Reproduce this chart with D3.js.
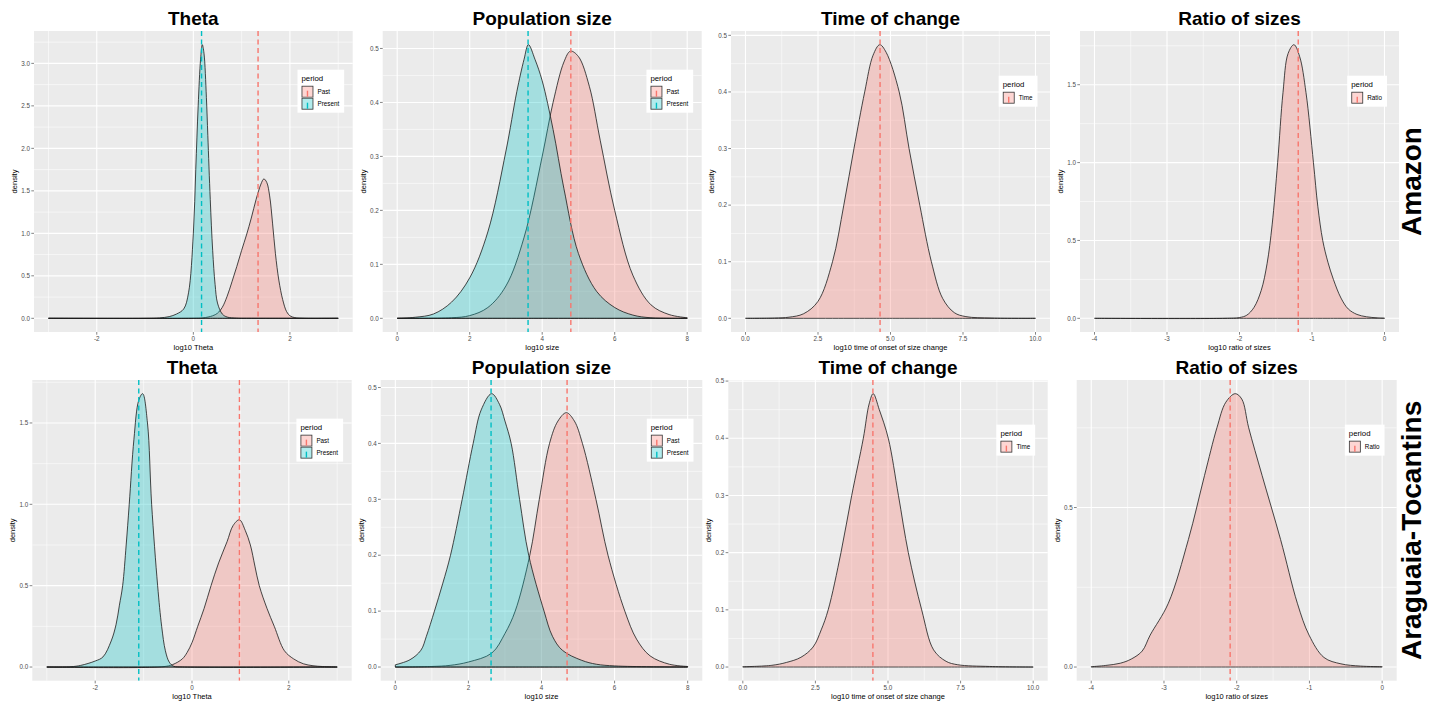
<!DOCTYPE html>
<meta charset="utf-8">
<style>
body { margin: 0; background: #fff; }
svg { display: block; font-family: "Liberation Sans", Arial, sans-serif; }
.tick-lab { font-size: 6.3px; fill: #4d4d4d; }
.ax-title { font-size: 7.5px; fill: #000; }
.panel-title { font-size: 19px; font-weight: bold; fill: #000; }
.row-label { font-size: 28px; font-weight: bold; fill: #000; }
</style>
<body>
<svg width="1435" height="702"></svg>
<script src="https://d3js.org/d3.v7.min.js"></script>
<script>

// ---- data: [log10 value, density] ----
var panelTitles = ["Theta", "Population size", "Time of change", "Ratio of sizes"];
var xLabels = ["log10 Theta", "log10 size", "log10 time of onset of size change", "log10 ratio of sizes"];
var rowLabels = ["Amazon", "Araguaia-Tocantins"];

var thetaTicks = [-2, 0, 2];
var sizeTicks = [0, 2, 4, 6, 8];
var timeTicks = [0, 2.5, 5, 7.5, 10];
var ratioTicks = [-4, -3, -2, -1, 0];

// Amazon
var amThetaPast = [[-3,0],[0,0],[0.2,0.005],[0.4,0.03],[0.5,0.06],[0.6,0.13],[0.7,0.26],[0.8,0.43],[0.9,0.61],[1.0,0.8],[1.1,0.98],[1.2,1.18],[1.3,1.4],[1.4,1.58],[1.46,1.64],[1.52,1.6],[1.58,1.44],[1.64,1.12],[1.7,0.76],[1.77,0.45],[1.85,0.22],[1.93,0.08],[2.0,0.03],[2.1,0.008],[2.3,0],[3,0]];
var amThetaPresent = [[-3,0],[-1,0],[-0.7,0.005],[-0.5,0.02],[-0.35,0.05],[-0.2,0.11],[-0.1,0.3],[0,1.0],[0.05,1.75],[0.1,2.5],[0.15,3.05],[0.185,3.22],[0.22,3.12],[0.27,2.6],[0.3,2.15],[0.35,1.4],[0.4,0.8],[0.45,0.4],[0.5,0.18],[0.6,0.05],[0.7,0.015],[0.9,0.002],[1.2,0],[3,0]];
var amThetaMeans = [1.34, 0.17];

var amSizePast = [[0,0],[1.5,0.001],[2.0,0.005],[2.5,0.02],[3.0,0.06],[3.5,0.15],[4.0,0.3],[4.3,0.4],[4.6,0.475],[4.78,0.495],[5.0,0.485],[5.3,0.43],[5.6,0.33],[6.0,0.2],[6.5,0.08],[7.0,0.025],[7.5,0.007],[8.0,0.001]];
var amSizePresent = [[0,0],[0.5,0.002],[1.0,0.008],[1.5,0.03],[2.0,0.075],[2.5,0.16],[3.0,0.31],[3.3,0.42],[3.5,0.48],[3.62,0.507],[3.8,0.48],[4.0,0.44],[4.3,0.35],[4.6,0.24],[5.0,0.12],[5.5,0.05],[6.0,0.02],[6.5,0.006],[7.0,0.001],[8,0]];
var amSizeMeans = [4.79, 3.61];

var amTime = [[0,0],[1.0,0.0005],[1.5,0.002],[2.0,0.008],[2.5,0.03],[3.0,0.1],[3.39,0.2],[3.74,0.3],[4.11,0.4],[4.4,0.465],[4.63,0.4835],[4.85,0.47],[5.3,0.4],[5.64,0.3],[6.01,0.2],[6.41,0.1],[6.8,0.035],[7.2,0.01],[7.6,0.003],[8.5,0.0005],[10,0]];
var amTimeMeans = [4.64];

var amRatio = [[-4,0],[-2.2,0],[-2.0,0.005],[-1.9,0.02],[-1.8,0.07],[-1.7,0.18],[-1.62,0.35],[-1.55,0.6],[-1.474,1.0],[-1.4,1.45],[-1.33,1.7],[-1.249,1.757],[-1.17,1.68],[-1.083,1.45],[-0.98,1.0],[-0.92,0.72],[-0.852,0.5],[-0.78,0.36],[-0.705,0.25],[-0.6,0.13],[-0.5,0.06],[-0.38,0.025],[-0.25,0.01],[-0.1,0.003],[0,0.001]];
var amRatioMeans = [-1.19];

// Araguaia-Tocantins
var atThetaPast = [[-3,0],[-0.6,0.002],[-0.4,0.015],[-0.2,0.05],[-0.1,0.09],[0,0.15],[0.118,0.25],[0.25,0.36],[0.393,0.5],[0.55,0.64],[0.724,0.77],[0.85,0.87],[0.98,0.905],[1.1,0.84],[1.206,0.75],[1.3,0.62],[1.39,0.5],[1.55,0.36],[1.7,0.25],[1.91,0.1],[2.1,0.05],[2.3,0.02],[2.5,0.008],[2.7,0.003],[3,0]];
var atThetaPresent = [[-3,0],[-2.5,0.002],[-2.3,0.01],[-2.0,0.037],[-1.84,0.062],[-1.67,0.16],[-1.57,0.26],[-1.5,0.38],[-1.433,0.5],[-1.36,0.75],[-1.297,1.0],[-1.2,1.4],[-1.1,1.64],[-1.02,1.68],[-0.92,1.5],[-0.834,1.0],[-0.71,0.5],[-0.627,0.25],[-0.55,0.1],[-0.47,0.03],[-0.38,0.005],[-0.2,0],[3,0]];
var atThetaMeans = [0.98, -1.10];

var atSizePast = [[0,0],[1.0,0.001],[1.5,0.003],[2.0,0.009],[2.64,0.025],[3.0,0.06],[3.28,0.1],[3.68,0.2],[3.94,0.3],[4.22,0.4],[4.45,0.44],[4.68,0.455],[4.9,0.44],[5.12,0.4],[5.49,0.3],[5.82,0.2],[6.28,0.1],[6.6,0.05],[6.97,0.02],[7.5,0.005],[8,0.001]];
var atSizePresent = [[0,0.004],[0.4,0.013],[0.7,0.03],[0.85,0.055],[1.07,0.1],[1.3,0.15],[1.51,0.2],[1.83,0.3],[2.13,0.4],[2.35,0.46],[2.635,0.489],[2.85,0.47],[3.0,0.44],[3.17,0.4],[3.4,0.3],[3.65,0.2],[4.07,0.1],[4.3,0.055],[4.57,0.03],[5.1,0.012],[5.5,0.005],[6,0.002],[7,0.0005],[8,0]];
var atSizeMeans = [4.70, 2.62];

var atTime = [[0,0.0005],[1.0,0.003],[1.5,0.008],[2.0,0.017],[2.42,0.035],[2.7,0.065],[2.94,0.1],[3.38,0.2],[3.75,0.3],[4.15,0.4],[4.35,0.46],[4.49,0.478],[4.7,0.45],[5.01,0.4],[5.36,0.3],[5.7,0.2],[6.16,0.1],[6.57,0.03],[7.0,0.01],[7.4,0.004],[8.5,0.001],[10,0]];
var atTimeMeans = [4.48];

var atRatio = [[-4,0.001],[-3.8,0.005],[-3.6,0.012],[-3.45,0.025],[-3.3,0.05],[-3.19,0.1],[-2.94,0.2],[-2.664,0.4],[-2.443,0.6],[-2.272,0.75],[-2.15,0.83],[-2.02,0.857],[-1.93,0.84],[-1.835,0.75],[-1.65,0.6],[-1.397,0.4],[-1.166,0.2],[-1.005,0.1],[-0.8,0.03],[-0.567,0.01],[-0.3,0.003],[0,0.001]];
var atRatioMeans = [-2.09];

var pink = "#F8766D", cyan = "#00BFC4";

// ---- layout ----
var svg = d3.select("svg");
var rowsY = [[31, 332], [380, 680.7]];
var colsX = [
  [[34, 352.7], [382.7, 701.7], [731, 1050], [1080, 1399]],
  [[32.3, 351.7], [380.7, 702.3], [728.3, 1047.7], [1076.7, 1396.7]]
];

var panels = [
  [
    {series: [["Past", pink, amThetaPast], ["Present", cyan, amThetaPresent]], means: amThetaMeans, ticks: thetaTicks, yTicks: [0,0.5,1,1.5,2,2.5,3], xf: d3.format("d")},
    {series: [["Past", pink, amSizePast], ["Present", cyan, amSizePresent]], means: amSizeMeans, ticks: sizeTicks, yTicks: [0,0.1,0.2,0.3,0.4,0.5], xf: d3.format("d")},
    {series: [["Time", pink, amTime]], means: amTimeMeans, ticks: timeTicks, yTicks: [0,0.1,0.2,0.3,0.4,0.5], xf: d3.format(".1f")},
    {series: [["Ratio", pink, amRatio]], means: amRatioMeans, ticks: ratioTicks, yTicks: [0,0.5,1,1.5], xf: d3.format("d")}
  ],
  [
    {series: [["Past", pink, atThetaPast], ["Present", cyan, atThetaPresent]], means: atThetaMeans, ticks: thetaTicks, yTicks: [0,0.5,1,1.5], xf: d3.format("d")},
    {series: [["Past", pink, atSizePast], ["Present", cyan, atSizePresent]], means: atSizeMeans, ticks: sizeTicks, yTicks: [0,0.1,0.2,0.3,0.4,0.5], xf: d3.format("d")},
    {series: [["Time", pink, atTime]], means: atTimeMeans, ticks: timeTicks, yTicks: [0,0.1,0.2,0.3,0.4,0.5], xf: d3.format(".1f")},
    {series: [["Ratio", pink, atRatio]], means: atRatioMeans, ticks: ratioTicks, yTicks: [0,0.5], xf: d3.format("d")}
  ]
];

function minors(ticks, dom) {
  var step = ticks[1] - ticks[0], out = [];
  for (var i = -1; i < ticks.length; i++) {
    var m = (i < 0 ? ticks[0] : ticks[i]) + (i < 0 ? -step / 2 : step / 2);
    if (m >= dom[0] && m <= dom[1]) out.push(m);
  }
  return out;
}
function lab(f, v) { return f(v).replace("\u2212", "-"); }

panels.forEach(function(row, r) {
  row.forEach(function(p, c) {
    var x0 = colsX[r][c][0], x1 = colsX[r][c][1], y0 = rowsY[r][0], y1 = rowsY[r][1];
    var allPts = [].concat.apply([], p.series.map(function(s) { return s[2]; }));
    var xe = d3.extent(allPts, function(d) { return d[0]; });
    var ymax = d3.max(allPts, function(d) { return d[1]; });
    var xr = xe[1] - xe[0];
    var x = d3.scaleLinear().domain([xe[0] - 0.05 * xr, xe[1] + 0.05 * xr]).range([x0, x1]);
    var y = d3.scaleLinear().domain([-0.05 * ymax, 1.05 * ymax]).range([y1, y0]);

    var g = svg.append("g");
    var clipId = "clip" + r + c;
    g.append("clipPath").attr("id", clipId).append("rect")
      .attr("x", x0).attr("y", y0).attr("width", x1 - x0).attr("height", y1 - y0);

    g.append("rect").attr("x", x0).attr("y", y0).attr("width", x1 - x0).attr("height", y1 - y0)
      .attr("fill", "#EBEBEB");

    // grid
    minors(p.ticks, x.domain()).forEach(function(v) {
      g.append("line").attr("x1", x(v)).attr("x2", x(v)).attr("y1", y0).attr("y2", y1)
        .attr("stroke", "#fff").attr("stroke-width", 0.55);
    });
    minors(p.yTicks, y.domain()).forEach(function(v) {
      g.append("line").attr("y1", y(v)).attr("y2", y(v)).attr("x1", x0).attr("x2", x1)
        .attr("stroke", "#fff").attr("stroke-width", 0.55);
    });
    p.ticks.forEach(function(v) {
      g.append("line").attr("x1", x(v)).attr("x2", x(v)).attr("y1", y0).attr("y2", y1)
        .attr("stroke", "#fff").attr("stroke-width", 1.1);
    });
    p.yTicks.forEach(function(v) {
      g.append("line").attr("y1", y(v)).attr("y2", y(v)).attr("x1", x0).attr("x2", x1)
        .attr("stroke", "#fff").attr("stroke-width", 1.1);
    });

    // densities
    var area = d3.area().x(function(d) { return x(d[0]); }).y0(y(0))
      .y1(function(d) { return y(Math.max(0, d[1])); }).curve(d3.curveCatmullRom.alpha(0.5));
    var plot = g.append("g").attr("clip-path", "url(#" + clipId + ")");
    p.series.forEach(function(s) {
      plot.append("path").datum(s[2]).attr("d", area)
        .attr("fill", s[1]).attr("fill-opacity", 0.3)
        .attr("stroke", "#1a1a1a").attr("stroke-width", 0.8).attr("stroke-linejoin", "round");
    });
    p.means.forEach(function(m, i) {
      plot.append("line").attr("x1", x(m)).attr("x2", x(m)).attr("y1", y0).attr("y2", y1)
        .attr("stroke", p.series[i][1]).attr("stroke-width", 1.4).attr("stroke-dasharray", "5,3.5");
    });

    // axes
    p.ticks.forEach(function(v) {
      g.append("line").attr("x1", x(v)).attr("x2", x(v)).attr("y1", y1).attr("y2", y1 + 2.7)
        .attr("stroke", "#333").attr("stroke-width", 0.6);
      g.append("text").attr("class", "tick-lab").attr("x", x(v)).attr("y", y1 + 9)
        .attr("text-anchor", "middle").text(lab(p.xf, v));
    });
    p.yTicks.forEach(function(v) {
      g.append("line").attr("x1", x0 - 2.7).attr("x2", x0).attr("y1", y(v)).attr("y2", y(v))
        .attr("stroke", "#333").attr("stroke-width", 0.6);
      g.append("text").attr("class", "tick-lab").attr("x", x0 - 4).attr("y", y(v) + 2.2)
        .attr("text-anchor", "end").text(d3.format(".1f")(v));
    });
    g.append("text").attr("class", "ax-title").attr("text-anchor", "middle")
      .attr("x", (x0 + x1) / 2).attr("y", y1 + 18).text(xLabels[c]);
    g.append("text").attr("class", "ax-title").attr("text-anchor", "middle")
      .attr("transform", "translate(" + (x0 - 17) + "," + ((y0 + y1) / 2) + ") rotate(-90)")
      .text("density");
    g.append("text").attr("class", "panel-title").attr("text-anchor", "middle")
      .attr("x", (x0 + x1) / 2).attr("y", y0 - 6).text(panelTitles[c]);

    // legend
    var n = p.series.length;
    var lg = g.append("g");
    var probe = lg.append("text").style("font-size", "6.3px").text(p.series.map(function(s) { return s[0]; })
      .reduce(function(a, b) { return a.length > b.length ? a : b; }));
    var tw = probe.node().getComputedTextLength();
    probe.remove();
    var lw = 4 + 12 + 4 + tw + 5, lh = 4 + 12 + 12 * n + 3;
    var lx = x0 + 0.9 * (x1 - x0) - lw / 2, ly = y0 + 0.2 * (y1 - y0) - lh / 2;
    lg.attr("transform", "translate(" + lx + "," + ly + ")");
    lg.append("rect").attr("width", lw).attr("height", lh).attr("fill", "#fff");
    lg.append("text").attr("x", 4).attr("y", 11).style("font-size", "7.8px").text("period");
    p.series.forEach(function(s, i) {
      var ky = 16 + i * 12;
      lg.append("rect").attr("x", 4).attr("y", ky).attr("width", 12).attr("height", 12).attr("fill", "#fff");
      lg.append("rect").attr("x", 4.5).attr("y", ky + 0.5).attr("width", 11).attr("height", 11)
        .attr("fill", s[1]).attr("fill-opacity", 0.3).attr("stroke", "#333").attr("stroke-width", 0.8);
      lg.append("line").attr("x1", 10).attr("x2", 10).attr("y1", ky + 5).attr("y2", ky + 11)
        .attr("stroke", s[1]).attr("stroke-width", 1.4);
      lg.append("text").attr("x", 20).attr("y", ky + 8.2).style("font-size", "6.3px").text(s[0]);
    });
  });
});

// row strip labels
rowLabels.forEach(function(t, r) {
  svg.append("text").attr("class", "row-label").attr("text-anchor", "middle")
    .attr("transform", "translate(1421," + ((rowsY[r][0] + rowsY[r][1]) / 2) + ") rotate(-90)")
    .text(t);
});

</script>
</body>
